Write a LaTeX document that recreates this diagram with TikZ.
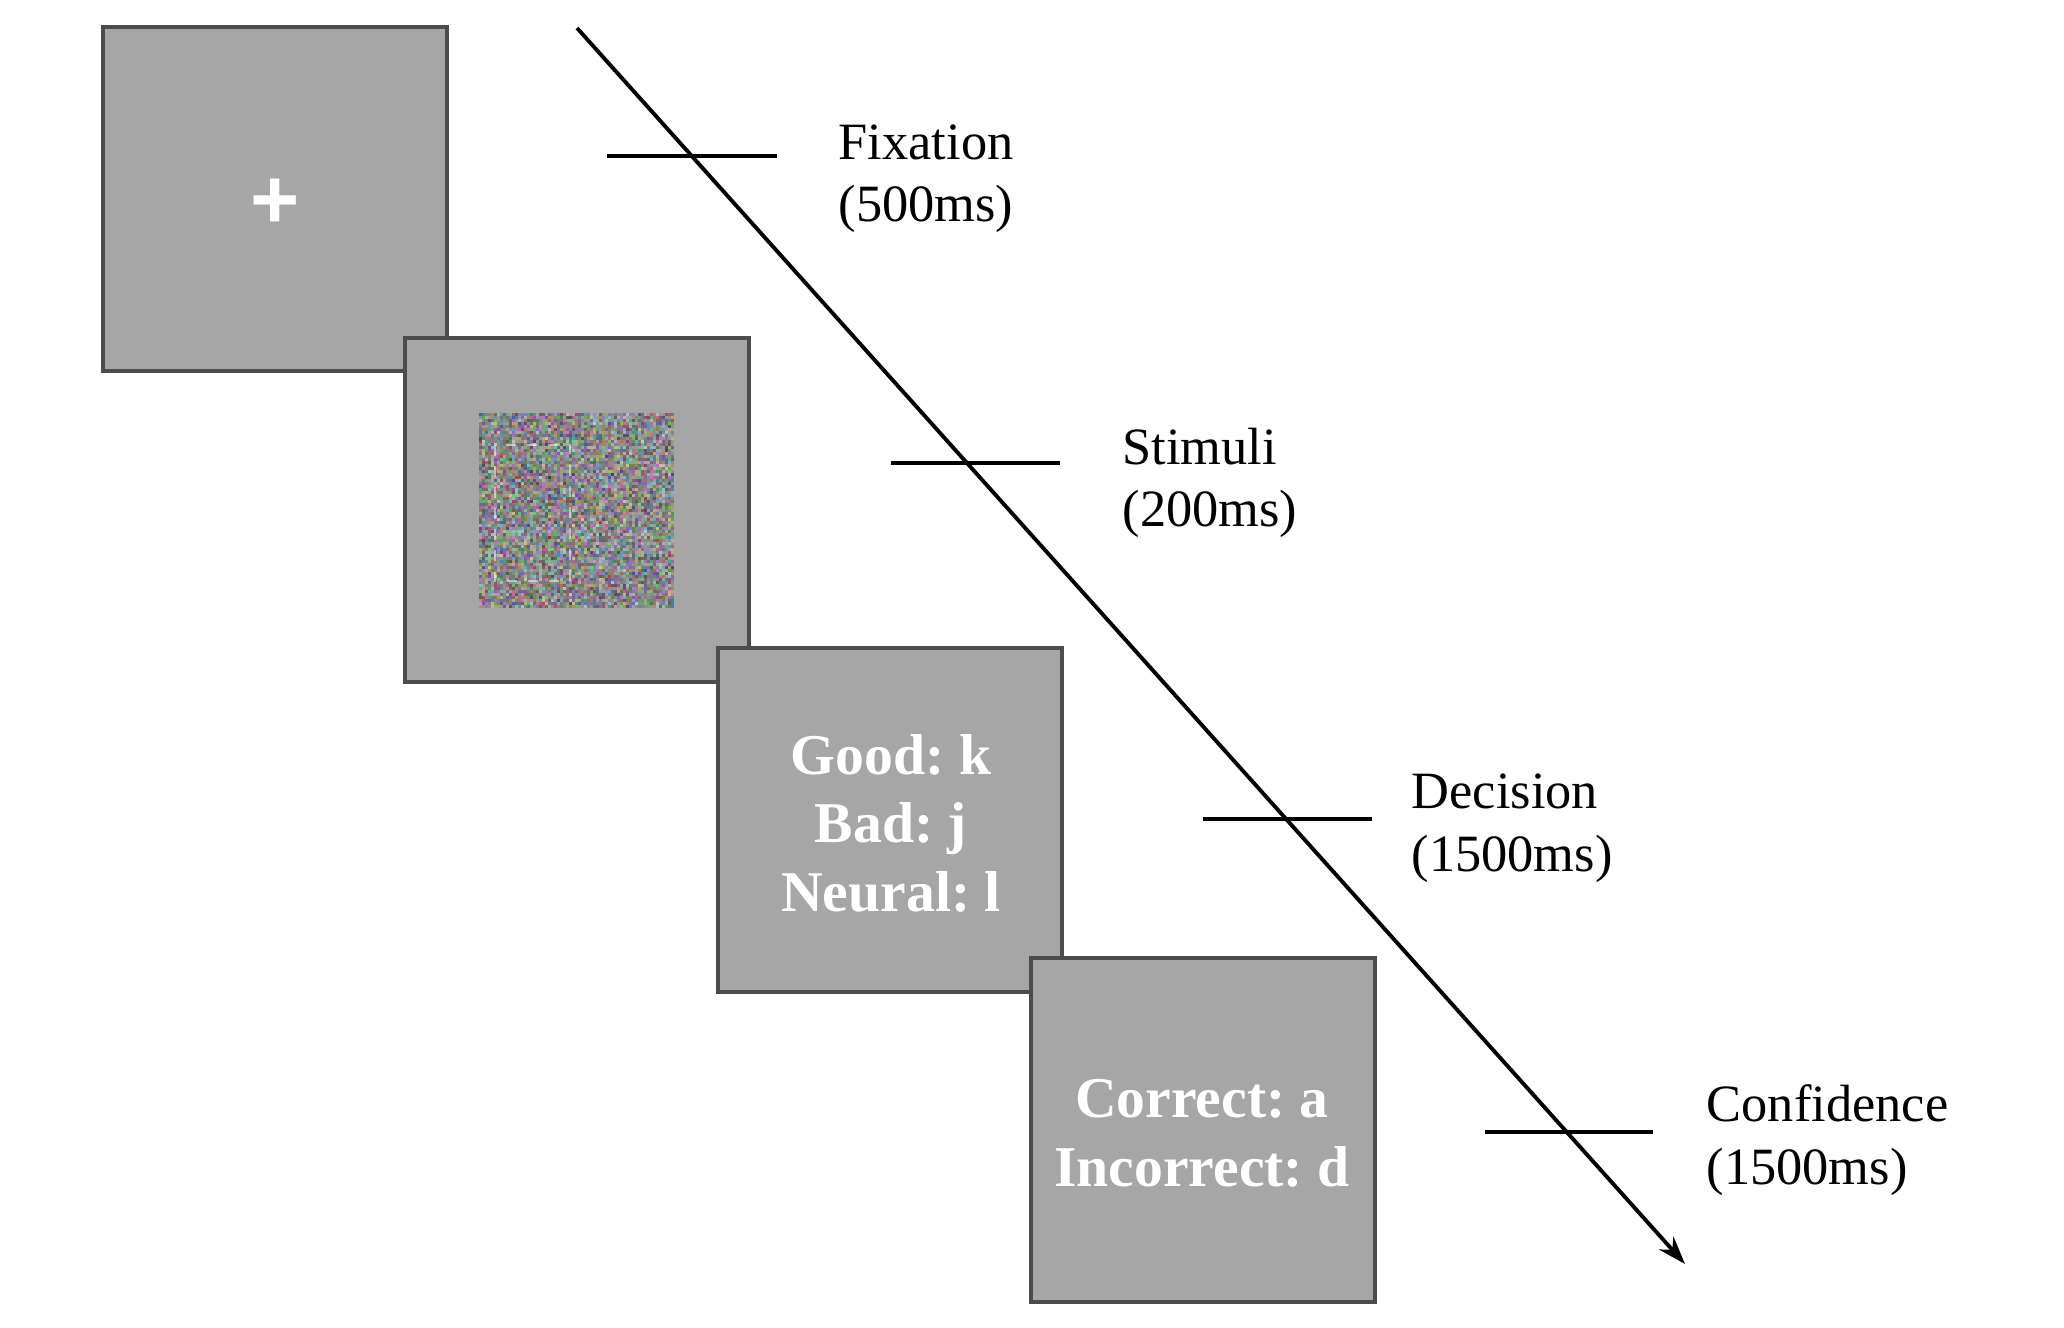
\documentclass[tikz,border=0pt]{standalone}
\usepackage{fontspec}
\setmainfont{Liberation Serif}
\newfontfamily\crossfont{Liberation Sans}
\usetikzlibrary{
  arrows.meta,
  positioning,
  calc
}

\begin{document}
\frenchspacing
\begin{tikzpicture}[
      x=0.01cm, y=-0.01cm,
      >={Stealth[length=8pt,width=5.5pt]},
      tela/.style={draw=black!70, line width=1.1pt, fill=black!35, minimum size=3.44cm, inner sep=0pt},
      resposta/.style={text=white, align=center, font=\fontsize{16.4}{19.4}\selectfont\bfseries, inner sep=0pt},
      rotulo/.style={anchor=base west, align=left, font=\fontsize{14.9}{17.8}\selectfont, inner sep=0pt},
      marca/.style={line width=1pt},
      seta/.style={->, line width=1.1pt}
  ]
      \useasboundingbox (0,0) rectangle (2064,1328);

      % Telas
      \node[tela] (fix) at (275,199) {};
      \node[text=white, font=\crossfont\fontsize{24}{24}\selectfont\bfseries, inner sep=0pt] (cruz) at (275,204) {+};

      \node[tela] (stim) at (577,510) {};
      \begin{scope}[shift={(stim.center)}]
          \pgfmathsetseed{42}
          \foreach \i in {0,...,64} {
              \foreach \j in {0,...,64} {
                  \pgfmathsetmacro{\ng}{0.42+0.22*rnd}
                  \pgfmathsetmacro{\nr}{min(1,max(0,\ng+0.36*(rnd-0.5)))}
                  \pgfmathsetmacro{\nv}{min(1,max(0,\ng+0.36*(rnd-0.5)))}
                  \pgfmathsetmacro{\nb}{min(1,max(0,\ng+0.36*(rnd-0.5)))}
                  \definecolor{ruido}{rgb}{\nr,\nv,\nb}
                  \fill[ruido] (-98+3*\i,-97+3*\j) rectangle ++(3.05,3.05);
              }
          }
          \draw[white, opacity=0.5, dashed, line width=0.4pt] (-82,-65) rectangle (-7,71);
      \end{scope}

      \node[tela] (dec) at (890,820) {};
      \node[resposta, anchor=base] (tdec) at (891,911) {Good: k\\Bad: j\\Neural: l};

      \node[tela] (conf) at (1203,1130) {};
      \node[resposta, anchor=base] (tconf) at (1202,1186) {Correct: a\\Incorrect: d};

      % Linha do tempo
      \coordinate (ini) at (577,28);
      \coordinate (fim) at (1685,1264);
      \draw[seta] (ini) -- (fim);

      \coordinate (m1a) at (607,156);  \coordinate (m1b) at (777,156);
      \coordinate (m2a) at (891,463);  \coordinate (m2b) at (1060,463);
      \coordinate (m3a) at (1203,819); \coordinate (m3b) at (1372,819);
      \coordinate (m4a) at (1485,1132); \coordinate (m4b) at (1653,1132);
      \draw[marca] (m1a) -- (m1b);
      \draw[marca] (m2a) -- (m2b);
      \draw[marca] (m3a) -- (m3b);
      \draw[marca] (m4a) -- (m4b);

      % Rotulos
      \node[rotulo] (lfix) at (838,222) {Fixation\\(500ms)};
      \node[rotulo] (lstim) at (1122,527) {Stimuli\\(200ms)};
      \node[rotulo] (ldec) at (1411,871) {Decision\\(1500ms)};
      \node[rotulo] (lconf) at (1706,1184) {Confidence\\(1500ms)};

  \end{tikzpicture}
\end{document}
